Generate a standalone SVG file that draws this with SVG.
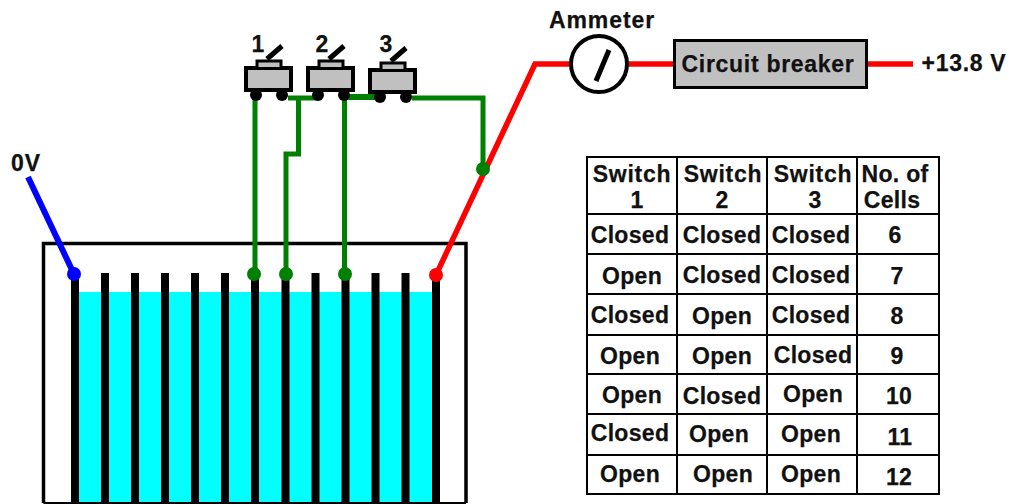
<svg xmlns="http://www.w3.org/2000/svg" width="1011" height="504" viewBox="0 0 1011 504">
<style>
text{font-family:"Liberation Sans",Arial,sans-serif;font-weight:bold;fill:#111;stroke:#111;stroke-width:.25;font-size:23px;letter-spacing:.3px;text-anchor:middle}
.w{letter-spacing:.7px}
.b{fill:none;stroke:#000;stroke-width:3.500}
.plate{stroke:#000;stroke-width:8;fill:none}
.g{stroke:#008000;stroke-width:5;fill:none}
.r{stroke:#f00;stroke-width:5.500;fill:none}
.sw{fill:#c0c0c0;stroke:#000;stroke-width:4}
.grid{stroke:#000;stroke-width:2;fill:none}
</style>
<defs>
<g id="switch">
<rect x="2" y="2" width="45" height="22" class="sw"/>
<path d="M13 1V-5H37V1" fill="#c0c0c0" stroke="#000" stroke-width="3"/>
<path d="M23 -7L38 -20" stroke="#000" stroke-width="5" fill="none"/>
<circle cx="12" cy="29" r="6" fill="#000"/>
<circle cx="38" cy="29" r="6" fill="#000"/>
</g>
</defs>
<rect width="1011" height="504" fill="#fff"/>
<g id="tank">
<rect x="76" y="292" width="361" height="211" fill="#0ff"/>
<path d="M43.500 503V243.500H466V503" class="b"/>
<path d="M43.500 503H466" stroke="#000" stroke-width="2" fill="none"/>
</g>
<g id="plates">
<path class="plate" d="M75 275V504M105 273V504M135 273V504M165 273V504M195 273V504M225 273V504M255 275V504M285.500 275V504M315.500 273V504M345.500 275V504M375.500 273V504M405.500 273V504M436 275V504"/>
</g>
<g id="connectors">
<path d="M28 177L73 272" stroke="#00f" stroke-width="6" fill="none"/>
<circle cx="74" cy="274" r="7" fill="#00f"/>
<path class="g" d="M255 97V274"/>
<path class="g" d="M288 98H318"/>
<path class="g" d="M298.500 98V154H286V274"/>
<path class="g" d="M344.500 98V274"/>
<path class="g" d="M341 97H385" style="stroke-width:6"/>
<path class="g" d="M412 98H483V170"/>
<circle cx="254" cy="274" r="7" fill="#008000"/>
<circle cx="286" cy="274" r="7" fill="#008000"/>
<circle cx="345" cy="274" r="7" fill="#008000"/>
<path class="r" d="M436 275L535 64H570"/>
<path class="r" d="M628 64H674"/>
<path class="r" d="M866 64H913"/>
<circle cx="436" cy="275" r="7" fill="#f00"/>
<circle cx="483" cy="169" r="7" fill="#008000"/>
</g>
<g id="switch1"><use href="#switch" x="244" y="66"/><text x="258" y="52">1</text></g>
<g id="switch2"><use href="#switch" x="306" y="66"/><text x="322" y="52">2</text></g>
<g id="switch3"><use href="#switch" x="368" y="68"/><text x="386" y="52">3</text></g>
<g id="ammeter">
<circle cx="599" cy="64" r="28" fill="#fff" stroke="#000" stroke-width="4"/>
<path d="M596 81L609 50" stroke="#000" stroke-width="5"/>
<text x="602" y="28" style="letter-spacing:.9px">Ammeter</text>
</g>
<g id="breaker">
<rect x="674.500" y="40.500" width="192" height="47" fill="#c0c0c0" stroke="#000" stroke-width="3"/>
<text class="w" x="768" y="72">Circuit breaker</text>
</g>
<text x="964" y="71" class="w">+13.8 V</text>
<text x="26" y="171" style="letter-spacing:1px">0V</text>
<g id="table">
<rect x="587" y="157" width="352" height="337" class="grid"/>
<path class="grid" d="M677 157V494M767 157V494M857 157V494M587 214H939M587 254H939M587 294H939M587 335H939M587 374H939M587 414H939M587 455H939"/>
<text class="w" x="632" y="182">Switch</text><text x="637" y="208">1</text>
<text class="w" x="723" y="182">Switch</text><text x="722" y="208">2</text>
<text class="w" x="813" y="182">Switch</text><text x="815" y="208">3</text>
<text x="895" y="182">No. of</text><text x="892" y="208">Cells</text>
<text x="630" y="243">Closed</text><text x="722" y="243">Closed</text><text x="811" y="243">Closed</text><text x="895" y="243">6</text>
<text x="632" y="284">Open</text><text x="722" y="283">Closed</text><text x="811" y="283">Closed</text><text x="897" y="284">7</text>
<text x="630" y="323">Closed</text><text x="722" y="324">Open</text><text x="811" y="323">Closed</text><text x="897" y="324">8</text>
<text x="630" y="364">Open</text><text x="722" y="364">Open</text><text x="813" y="363">Closed</text><text x="897" y="364">9</text>
<text x="632" y="403">Open</text><text x="722" y="404">Closed</text><text x="813" y="402">Open</text><text x="899" y="404">10</text>
<text x="630" y="441">Closed</text><text x="719" y="442">Open</text><text x="811" y="442">Open</text><text x="900" y="445">11</text>
<text x="630" y="482">Open</text><text x="723" y="482">Open</text><text x="811" y="482">Open</text><text x="899" y="485">12</text>
</g>
</svg>
